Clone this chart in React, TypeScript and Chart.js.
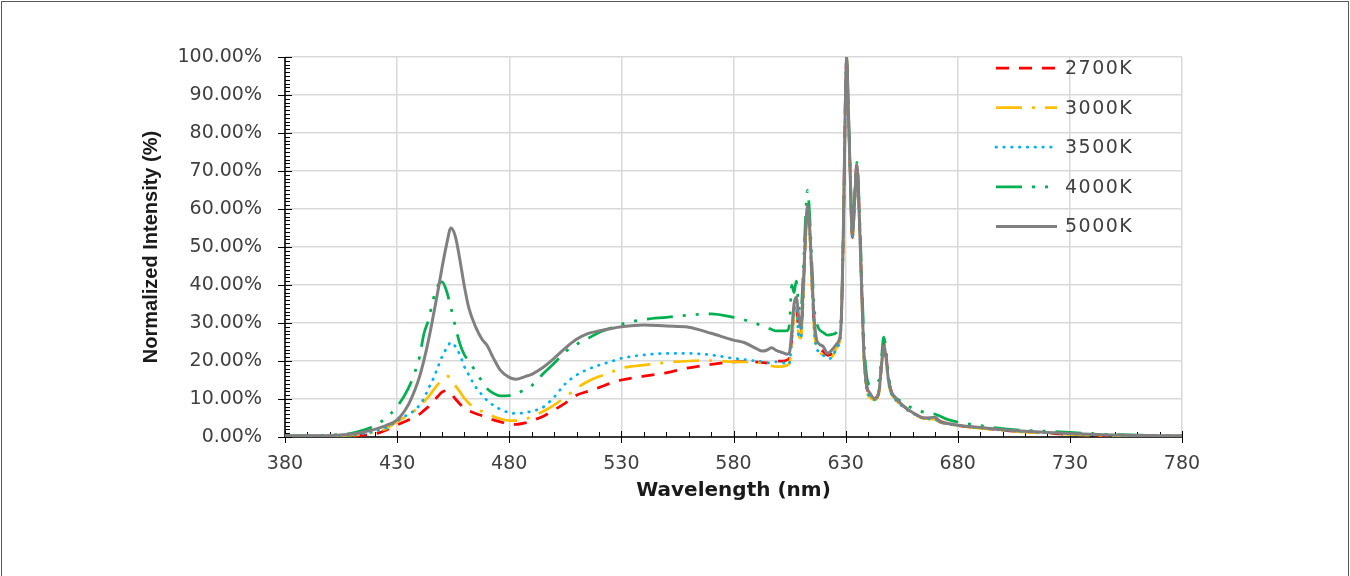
import React, { useEffect, useRef } from "react";
import { Chart, registerables } from "chart.js";

Chart.register(...registerables);

// ---- Data (normalized intensity in %) ----
const WAVELENGTHS: number[] = [
  380, 390, 400, 410, 415, 420, 425, 430,
  435, 438, 440, 442, 444, 446, 448, 450, 452, 454, 456, 458, 460, 462, 465, 468, 470, 473, 476,
  480, 483, 487, 490, 495, 500, 505, 510, 515, 520, 525, 530,
  540, 550, 560, 570, 580, 585, 590, 593, 595, 597, 599, 602, 604, 605,
  606, 607, 608, 609, 610, 611, 612, 613, 614, 615, 616, 617, 618,
  620, 622, 624, 626, 627, 628, 629, 630, 630.5, 631, 632, 633, 634, 635, 636, 637, 638, 639,
  641, 643, 645, 646, 647, 648, 649, 650, 652, 655, 660, 665, 670, 672, 675, 680,
  690, 700, 710, 720, 730, 745, 760, 780,
];

const S2700K: number[] = [
  0.1, 0.2, 0.2, 0.3, 0.5, 0.8, 1.8, 3.2,
  4.5, 5.4, 6.0, 7.0, 8.0, 9.3, 10.6, 11.8, 12.2, 11.5, 10.0, 8.7, 7.5, 6.9, 6.2, 5.6, 5.2, 4.5, 4.0,
  3.4, 3.3, 3.7, 4.3, 5.4, 7.1, 8.9, 11.0, 12.0, 13.0, 14.1, 15.0,
  16.0, 16.9, 18.2, 19.1, 19.8, 19.9, 19.8, 19.6, 19.5, 19.8, 20.0, 20.0, 20.3, 21.0,
  26, 33, 34.5, 28, 26.5, 36, 51, 60, 54.5, 40.5, 29, 24.5, 23.5,
  22.5, 21.5, 22, 24, 25, 29.5, 54.5, 92, 100, 90.5, 70.5, 52.5, 62, 72, 60, 42, 24, 15,
  11, 10.2, 12.5, 19, 24.5, 21.5, 16, 12.8, 10.5, 8.5, 6.4, 5.0, 5.0, 4.2, 3.6, 3.0,
  2.4, 1.8, 1.4, 1.0, 0.7, 0.4, 0.3, 0.2,
];

const S3000K: number[] = [
  0.2, 0.2, 0.3, 0.5, 0.8, 1.3, 2.2, 4.0,
  5.8, 7.0, 8.0, 9.3, 10.6, 12.2, 13.7, 15.0, 16.0, 15.5, 13.5, 11.9, 10.2, 8.9, 7.5, 6.7, 6.2, 5.4, 4.8,
  4.3, 4.3, 4.6, 5.4, 6.7, 8.4, 10.5, 12.8, 14.6, 15.9, 16.9, 18.1,
  18.9, 19.6, 20.0, 20.1, 19.8, 19.8, 19.7, 19.3, 18.9, 18.7, 18.5, 18.6, 18.9, 19.5,
  25, 32, 34, 27, 26, 35, 50, 59.5, 54, 40, 28, 23.5, 22.5,
  21.5, 20.8, 21.2, 23.5, 24.5, 29, 54, 92, 100, 90, 70, 52, 61, 71, 59, 41, 23, 14,
  10.3, 9.8, 12, 18.5, 23.5, 20.5, 15, 12, 10, 8.2, 6.2, 4.9, 4.6, 3.9, 3.5, 3.0,
  2.3, 1.7, 1.3, 1.0, 0.7, 0.4, 0.3, 0.2,
];

const S3500K: number[] = [
  0.2, 0.2, 0.3, 0.5, 0.9, 1.5, 2.4, 4.2,
  6.0, 7.1, 8.4, 10.2, 12.8, 15.2, 18.1, 21.1, 23.3, 24.9, 23.8, 21.6, 18.5, 16.3, 13.2, 11.0, 9.7, 8.3, 7.3,
  6.4, 6.2, 6.4, 6.8, 7.8, 10.5, 14.0, 16.3, 17.8, 18.9, 19.8, 20.7,
  21.6, 22.0, 22.0, 21.6, 20.7, 20.4, 20.0, 19.8, 19.5, 19.6, 19.8, 19.6, 19.0, 19.5,
  26, 33, 34.5, 27, 26, 35, 50, 59.5, 54, 40, 28, 23.5, 22.5,
  21.5, 20.6, 21.0, 23.5, 24.5, 29, 54, 92, 100, 90, 70, 52, 61, 71, 59, 41, 23, 14,
  10.5, 9.8, 12, 18.5, 23.5, 20.5, 15, 12, 10, 8.2, 6.2, 4.9, 4.6, 3.9, 3.5, 3.0,
  2.4, 1.8, 1.4, 1.1, 0.8, 0.5, 0.3, 0.2,
];

const S4000K: number[] = [
  0.3, 0.3, 0.5, 1.0, 1.8, 3.0, 5.0, 8.0,
  12.8, 17.2, 21.1, 27.3, 30.8, 36.0, 39.6, 40.8, 38.5, 34.0, 29.0, 24.5, 21.6, 20.0, 17.2, 14.5, 12.8, 11.5, 10.8,
  10.9, 11.3, 12.5, 13.5, 16.6, 19.4, 22.4, 24.4, 25.9, 27.5, 28.6, 29.7,
  30.9, 31.5, 32.1, 32.4, 31.5, 30.8, 29.9, 29.2, 28.8, 28.3, 27.9, 27.9, 28.0, 30.0,
  40, 38, 41, 35, 33, 42, 56, 64.9, 58, 45, 34, 30.3, 28.5,
  27.5, 26.8, 27.0, 27.6, 29.0, 31.0, 55, 92, 100, 91, 71, 54, 63, 72.3, 62, 45, 28, 18,
  13.6, 14.0, 15.2, 21, 26.3, 23, 17, 12.5, 10.5, 9.3, 7.5, 6.5, 6.0, 5.5, 4.7, 3.9,
  3.0, 2.2, 1.75, 1.5, 1.2, 0.7, 0.5, 0.3,
];

const S5000K: number[] = [
  0.4, 0.3, 0.4, 0.8, 1.3, 2.0, 3.0, 4.5,
  8.5, 12.5, 15.9, 20.3, 25.5, 31.5, 37.8, 44.5, 50.5, 55.0, 52.7, 46.6, 39.6, 33.9, 29.0, 25.6, 24.2, 20.7, 17.6,
  15.7, 15.2, 15.9, 16.5, 18.3, 20.7, 23.4, 25.7, 27.2, 27.9, 28.5, 29.0,
  29.5, 29.2, 28.9, 27.3, 25.5, 24.8, 23.3, 22.6, 22.9, 23.5, 22.8, 22.2, 21.8, 22.3,
  28, 35, 36.8, 32, 28.5, 38, 52, 61, 55, 42, 31, 25.8, 24.6,
  23.8, 22.0, 23.0, 24.5, 25.4, 30, 55, 92, 100, 91, 70, 53, 62, 71.5, 60, 42, 24, 15,
  11.4, 10.1, 12.5, 19, 24, 21, 15.5, 12.5, 10.5, 8.6, 6.4, 5.0, 5.2, 4.0, 3.6, 3.1,
  2.5, 1.9, 1.5, 1.2, 0.9, 0.6, 0.4, 0.3,
];

const SERIES_LABELS: string[] = ["2700K", "3000K", "3500K", "4000K", "5000K"];

const X_MIN = 380;
const X_MAX = 780;
const X_MAJOR = 50;
const X_MINOR = 10;
const Y_MIN = 0;
const Y_MAX = 100;
const Y_MAJOR = 10;
const Y_MINOR = 1;

const X_TITLE = "Wavelength (nm)";
const Y_TITLE = "Normalized Intensity (%)";

const toPoints = (vals: number[]) => WAVELENGTHS.map((x, i) => ({ x, y: vals[i] }));

const axesTicksPlugin = {
  id: "axesTicks",
  beforeDatasetsDraw(chart: any) {
    const { ctx, chartArea: a, scales } = chart;
    const xs = scales.x;
    const ys = scales.y;
    ctx.save();
    ctx.strokeStyle = "#000";
    ctx.lineWidth = 1;
    ctx.beginPath();
    for (let v = X_MIN; v <= X_MAX; v += X_MINOR) {
      const px = Math.round(xs.getPixelForValue(v)) + 0.5;
      const major = (v - X_MIN) % X_MAJOR === 0;
      ctx.moveTo(px, a.bottom - (major ? 6 : 5));
      ctx.lineTo(px, a.bottom + (major ? 6 : 0));
    }
    for (let v = Y_MIN; v <= Y_MAX; v += Y_MINOR) {
      const py = Math.round(ys.getPixelForValue(v)) + 0.5;
      const major = (v - Y_MIN) % Y_MAJOR === 0;
      ctx.moveTo(a.left - (major ? 7 : 0), py);
      ctx.lineTo(a.left + (major ? 7 : 5), py);
    }
    ctx.stroke();
    ctx.lineWidth = 1.5;
    ctx.beginPath();
    ctx.moveTo(a.left, a.top);
    ctx.lineTo(a.left, a.bottom);
    ctx.lineTo(a.right, a.bottom);
    ctx.stroke();
    ctx.restore();
  },
};

const legendPlugin = {
  id: "insideLegend",
  afterDatasetsDraw(chart: any) {
    const { ctx, chartArea: a } = chart;
    chart.data.datasets.forEach((ds: any, i: number) => {
      const yy = a.top + 11 + i * 39.6;
      const x0 = a.right - 186;
      ctx.save();
      ctx.strokeStyle = ds.borderColor;
      ctx.lineWidth = ds.borderWidth;
      ctx.lineCap = ds.borderCapStyle || "butt";
      ctx.setLineDash(ds.borderDash || []);
      ctx.beginPath();
      ctx.moveTo(x0, yy);
      ctx.lineTo(x0 + 61, yy);
      ctx.stroke();
      ctx.setLineDash([]);
      ctx.fillStyle = "#404040";
      ctx.font = '19px "DejaVu Sans"';
      ctx.textBaseline = "middle";
      ctx.textAlign = "left";
      try {
        (ctx as any).letterSpacing = "1.5px";
      } catch (e) {}
      ctx.fillText(ds.label, x0 + 69, yy + 1);
      ctx.restore();
    });
  },
};

export default function App() {
  const ref = useRef<HTMLCanvasElement>(null);

  useEffect(() => {
    document.body.style.margin = "0";
    const canvas = ref.current;
    if (!canvas) return;
    const chart = new Chart(canvas, {
      type: "line",
      data: {
        datasets: [
          {
            label: SERIES_LABELS[0],
            data: toPoints(S2700K),
            borderColor: "#FF0000",
            borderWidth: 2.75,
            borderDash: [13, 10],
            order: 5,
          },
          {
            label: SERIES_LABELS[1],
            data: toPoints(S3000K),
            borderColor: "#FFC000",
            borderWidth: 2.75,
            borderDash: [26, 10, 3, 10],
            order: 4,
          },
          {
            label: SERIES_LABELS[2],
            data: toPoints(S3500K),
            borderColor: "#00B0F0",
            borderWidth: 2.75,
            borderDash: [0.5, 7.3],
            borderCapStyle: "round",
            order: 3,
          },
          {
            label: SERIES_LABELS[3],
            data: toPoints(S4000K),
            borderColor: "#00B050",
            borderWidth: 2.75,
            borderDash: [26, 10, 3, 10, 3, 10],
            order: 2,
          },
          {
            label: SERIES_LABELS[4],
            data: toPoints(S5000K),
            borderColor: "#808080",
            borderWidth: 3,
            order: 1,
          },
        ] as any,
      },
      options: {
        animation: false,
        responsive: false,
        parsing: false as any,
        normalized: true,
        elements: {
          point: { radius: 0, hoverRadius: 0 },
          line: { cubicInterpolationMode: "monotone", fill: false },
        },
        layout: { padding: { left: 130, right: 168, top: 57, bottom: 39 } },
        plugins: {
          legend: { display: false },
          tooltip: { enabled: false },
        },
        scales: {
          x: {
            type: "linear",
            min: X_MIN,
            max: X_MAX,
            afterFit: (s: any) => {
              s.height = 100;
            },
            border: { display: false },
            grid: { color: "#D9D9D9", lineWidth: 1.5, drawTicks: false },
            ticks: {
              stepSize: X_MAJOR,
              padding: 16,
              color: "#404040",
              font: { family: "DejaVu Sans", size: 19 },
              maxRotation: 0,
            },
            title: {
              display: true,
              text: X_TITLE,
              color: "#1a1a1a",
              font: { family: "DejaVu Sans", size: 20, weight: "bold" },
              padding: { top: 0, bottom: 34 },
            },
          },
          y: {
            type: "linear",
            min: Y_MIN,
            max: Y_MAX,
            afterFit: (s: any) => {
              s.width = 155;
            },
            border: { display: false },
            grid: { color: "#D9D9D9", lineWidth: 1.5, drawTicks: false },
            ticks: {
              stepSize: Y_MAJOR,
              padding: 23,
              color: "#404040",
              font: { family: "DejaVu Sans", size: 19 },
              callback: (v: any) => `${Number(v).toFixed(2)}%`,
            },
            title: {
              display: true,
              text: Y_TITLE,
              color: "#1a1a1a",
              font: { family: "Liberation Sans", size: 20, weight: "bold" },
              padding: { top: 9, bottom: 0 },
            },
          },
        },
      } as any,
      plugins: [axesTicksPlugin, legendPlugin],
    });
    return () => chart.destroy();
  }, []);

  return (
    <div style={{ position: "relative", width: 1350, height: 576, overflow: "hidden", background: "#fff" }}>
      <canvas
        ref={ref}
        width={1350}
        height={576}
        style={{ position: "absolute", left: 0, top: 0, width: 1350, height: 576 }}
      />
      <div
        style={{
          position: "absolute",
          left: 1,
          top: 1,
          width: 1346,
          height: 600,
          border: "1px solid #595959",
          pointerEvents: "none",
        }}
      />
    </div>
  );
}
